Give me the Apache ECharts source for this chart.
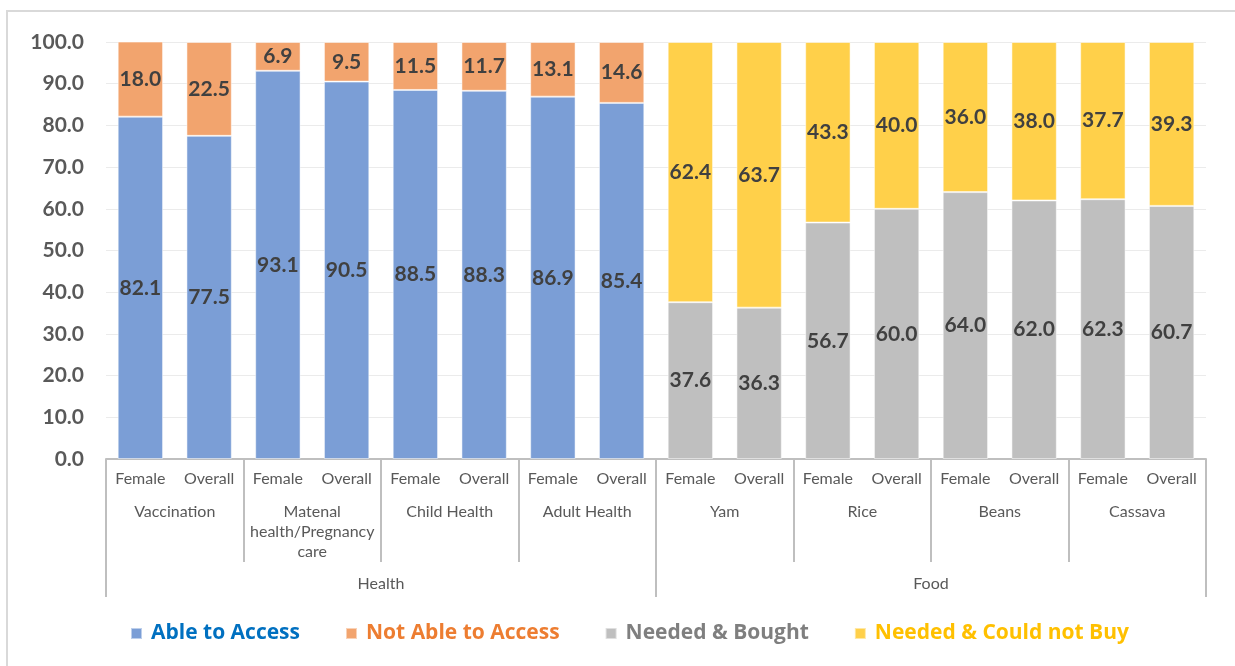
<!DOCTYPE html>
<html>
<head>
<meta charset="utf-8">
<script src="https://cdn.jsdelivr.net/npm/echarts@6/dist/echarts.min.js"></script>
<style>
  html, body { margin: 0; padding: 0; background: #fff; }
  #frame { position: absolute; left: 6px; top: 10px; width: 1240px; height: 670px; border: 2px solid #d9d9d9; box-sizing: border-box; }
  #chart { position: absolute; left: 0; top: 0; width: 1235px; height: 666px; }
</style>
</head>
<body>
<div id="frame"></div>
<div id="chart"></div>
<script>
// categories
const subCats = ['Female', 'Overall', 'Female', 'Overall', 'Female', 'Overall', 'Female', 'Overall',
                 'Female', 'Overall', 'Female', 'Overall', 'Female', 'Overall', 'Female', 'Overall']
const groups = ['Vaccination', 'Matenal\nhealth/Pregnancy\ncare', 'Child Health', 'Adult Health',
                'Yam', 'Rice', 'Beans', 'Cassava']
const sectors = ['Health', 'Food']
const yTicks = [0, 100, 10]

// series values
const ableToAccess    = [82.1, 77.5, 93.1, 90.5, 88.5, 88.3, 86.9, 85.4, '-', '-', '-', '-', '-', '-', '-', '-']
const notAbleToAccess = [18.0, 22.5, 6.9, 9.5, 11.5, 11.7, 13.1, 14.6, '-', '-', '-', '-', '-', '-', '-', '-']
const neededBought    = ['-', '-', '-', '-', '-', '-', '-', '-', 37.6, 36.3, 56.7, 60.0, 64.0, 62.0, 62.3, 60.7]
const couldNotBuy     = ['-', '-', '-', '-', '-', '-', '-', '-', 62.4, 63.7, 43.3, 40.0, 36.0, 38.0, 37.7, 39.3]

const font = 'Lato, "Open Sans", sans-serif'
const axisGray = '#595959'
const sepColor = '#bfbfbf'

const chart = echarts.init(document.getElementById('chart'))

function barSeries(name, data, color) {
    return {
        name: name,
        type: 'bar',
        stack: 'total',
        barWidth: '66%',
        data: data,
        itemStyle: { color: color, borderColor: 'rgba(255,255,255,0.5)', borderWidth: 1 },
        label: {
            show: true,
            position: 'inside',
            color: '#404040',
            fontFamily: font,
            fontWeight: 'bold',
            fontSize: 21,
            formatter: p => Number(p.value).toFixed(1)
        }
    }
}

chart.setOption({
    animation: false,
    grid: { left: 106, right: 29, top: 42, bottom: 207 },
    legend: {
        bottom: 17,
        left: 125,
        itemWidth: 11,
        itemHeight: 11,
        itemGap: 45,
        icon: 'rect',
        textStyle: { fontFamily: '"Open Sans", sans-serif', fontSize: 21, fontWeight: 'bold', padding: [0, 0, 0, 4] },
        data: [
            { name: 'Able to Access', textStyle: { color: '#0070C0' } },
            { name: 'Not Able to Access', textStyle: { color: '#ED7D31' } },
            { name: 'Needed & Bought', textStyle: { color: '#7F7F7F' } },
            { name: 'Needed & Could not Buy', textStyle: { color: '#FFC000' } }
        ]
    },
    xAxis: [{
        type: 'category',
        data: subCats,
        position: 'bottom',
        axisLine: { show: true, lineStyle: { color: sepColor, width: 2 } },
        axisTick: { show: false },
        axisLabel: { interval: 0, color: axisGray, fontFamily: font, fontSize: 16, margin: 12 }
    }, {
        type: 'category',
        data: groups,
        position: 'bottom',
        axisLine: { show: false },
        axisTick: { show: true, length: 103, lineStyle: { color: sepColor, width: 2 } },
        axisLabel: { interval: 0, color: axisGray, fontFamily: font, fontSize: 16, margin: 43, lineHeight: 20 }
    }, {
        type: 'category',
        data: sectors,
        position: 'bottom',
        axisLine: { show: false },
        axisTick: { show: true, length: 138, lineStyle: { color: sepColor, width: 2 } },
        axisLabel: { interval: 0, color: axisGray, fontFamily: font, fontSize: 16, margin: 117 }
    }],
    yAxis: {
        type: 'value',
        min: yTicks[0],
        max: yTicks[1],
        interval: yTicks[2],
        axisLine: { show: false },
        axisTick: { show: false },
        splitLine: { lineStyle: { color: '#ebebeb', width: 1 } },
        axisLabel: {
            color: axisGray,
            fontFamily: font,
            fontSize: 21,
            fontWeight: 'bold',
            margin: 22,
            formatter: v => v.toFixed(1)
        }
    },
    series: [
        barSeries('Able to Access', ableToAccess, '#7B9ED6'),
        barSeries('Not Able to Access', notAbleToAccess, '#F2A46E'),
        barSeries('Needed & Bought', neededBought, '#BFBFBF'),
        barSeries('Needed & Could not Buy', couldNotBuy, '#FFD04A')
    ]
})
</script>
</body>
</html>
